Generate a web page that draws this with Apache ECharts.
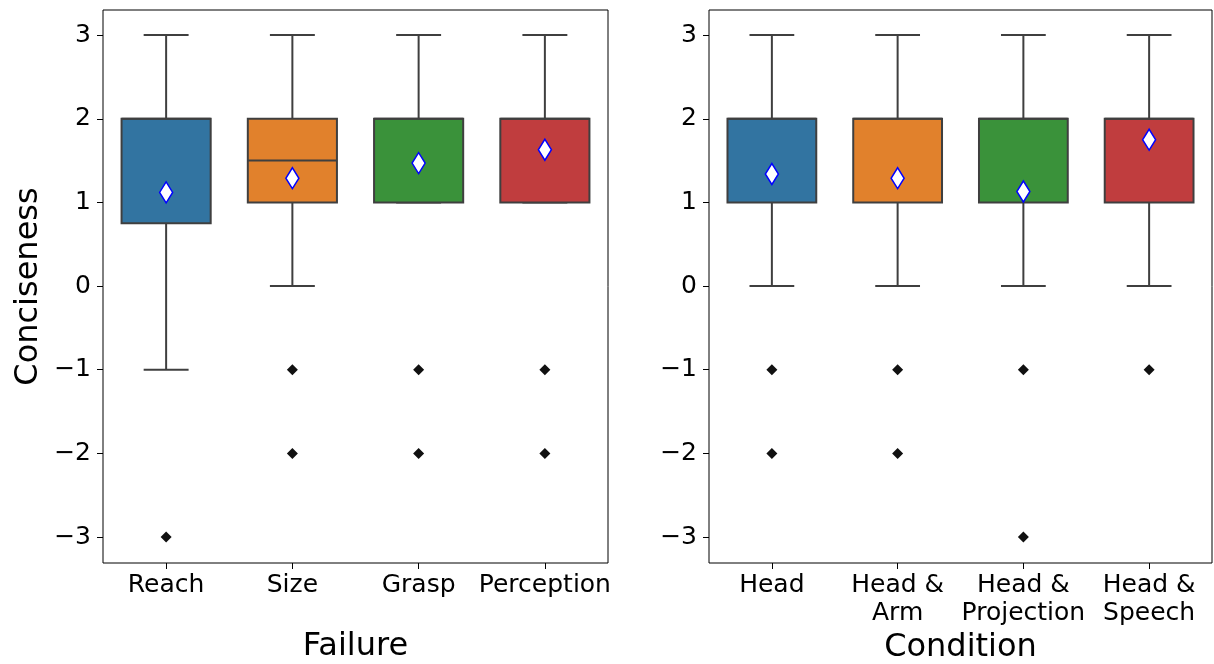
<!DOCTYPE html>
<html>
<head>
<meta charset="utf-8">
<script src="https://cdn.jsdelivr.net/npm/echarts@6/dist/echarts.min.js"></script>
<style>
html,body{margin:0;padding:0;background:#fff;}
#chart{width:1214px;height:664px;}
</style>
</head>
<body>
<div id="chart"></div>
<script>
// ---- data ----
const failureCats = ['Reach', 'Size', 'Grasp', 'Perception'];
const failureLow = [-1, 0, 1, 1];
const failureQ1 = [0.75, 1, 1, 1];
const failureMedian = [2, 1.5, 2, 2];
const failureQ3 = [2, 2, 2, 2];
const failureHigh = [3, 3, 3, 3];
const failureMean = [1.12, 1.29, 1.47, 1.63];
const failureOutliers = [[-3], [-1, -2], [-1, -2], [-1, -2]];

const conditionCats = ['Head', 'Head &\nArm', 'Head &\nProjection', 'Head &\nSpeech'];
const conditionLow = [0, 0, 0, 0];
const conditionQ1 = [1, 1, 1, 1];
const conditionMedian = [2, 2, 2, 2];
const conditionQ3 = [2, 2, 2, 2];
const conditionHigh = [3, 3, 3, 3];
const conditionMean = [1.34, 1.29, 1.13, 1.75];
const conditionOutliers = [[-1, -2], [-1, -2], [-1, -3], [-1]];

const yTicks = [-3, -2, -1, 0, 1, 2, 3];

// ---- style ----
const palette = ['#3274a1', '#e1812c', '#3a923a', '#c03d3e'];
const edge = '#3f3f3f';
const FONT = 'DejaVu Sans';

function boxData(low, q1, med, q3, high) {
  return low.map((v, i) => [i, low[i], q1[i], med[i], q3[i], high[i]]);
}
function outlierData(outs) {
  const r = [];
  outs.forEach((arr, i) => arr.forEach(v => r.push([i, v])));
  return r;
}
function meanData(means) {
  return means.map((v, i) => [i, v]);
}

function renderBox(params, api) {
  const idx = api.value(0);
  const band = api.size([1, 0])[0];
  const hw = band * 0.353, cw = band * 0.178;
  const pMin = api.coord([idx, api.value(1)]);
  const pQ1 = api.coord([idx, api.value(2)]);
  const pMed = api.coord([idx, api.value(3)]);
  const pQ3 = api.coord([idx, api.value(4)]);
  const pMax = api.coord([idx, api.value(5)]);
  const x = pQ1[0];
  const st = { stroke: edge, lineWidth: 2, fill: null };
  return {
    type: 'group',
    children: [
      { type: 'line', shape: { x1: x, y1: pQ3[1], x2: x, y2: pMax[1] }, style: st },
      { type: 'line', shape: { x1: x, y1: pQ1[1], x2: x, y2: pMin[1] }, style: st },
      { type: 'line', shape: { x1: x - cw, y1: pMax[1], x2: x + cw, y2: pMax[1] }, style: st },
      { type: 'line', shape: { x1: x - cw, y1: pMin[1], x2: x + cw, y2: pMin[1] }, style: st },
      { type: 'rect', shape: { x: x - hw, y: pQ3[1], width: 2 * hw, height: pQ1[1] - pQ3[1] },
        style: { fill: palette[idx], stroke: edge, lineWidth: 2 } },
      { type: 'line', shape: { x1: x - hw, y1: pMed[1], x2: x + hw, y2: pMed[1] }, style: st }
    ]
  };
}

const minusFmt = v => String(v).replace('-', '\u2212');

function xAxisFor(gi, cats, name) {
  return {
    type: 'category', gridIndex: gi, data: cats,
    name: name, nameLocation: 'middle', nameGap: 68,
    nameTextStyle: { fontFamily: FONT, fontSize: 32, color: '#000' },
    axisLine: { show: false, onZero: false },
    axisTick: { show: true, alignWithLabel: true, length: 6, lineStyle: { color: '#000', width: 1 } },
    axisLabel: { fontFamily: FONT, fontSize: 25, color: '#000', margin: 8, lineHeight: 28, interval: 0 },
    splitLine: { show: false }
  };
}
function yAxisFor(gi, name) {
  return {
    type: 'value', gridIndex: gi, min: -3.31, max: 3.3,
    name: name, nameLocation: 'middle', nameGap: 58,
    nameTextStyle: { fontFamily: FONT, fontSize: 32, color: '#000' },
    axisLine: { show: false, onZero: false },
    axisTick: { show: true, length: 6, customValues: yTicks, lineStyle: { color: '#000', width: 1 } },
    axisLabel: { fontFamily: FONT, fontSize: 25, color: '#000', margin: 12, customValues: yTicks, formatter: minusFmt },
    splitLine: { show: false }
  };
}

const meanSymbol = 'path://M5,0L10,10L5,20L0,10Z';

function seriesFor(gi, low, q1, med, q3, high, means, outs) {
  return [
    { type: 'custom', xAxisIndex: gi, yAxisIndex: gi, renderItem: renderBox,
      data: boxData(low, q1, med, q3, high), z: 2, silent: true },
    { type: 'scatter', xAxisIndex: gi, yAxisIndex: gi, data: outlierData(outs),
      symbol: 'diamond', symbolSize: 11, itemStyle: { color: '#111', opacity: 1 }, z: 3 },
    { type: 'scatter', xAxisIndex: gi, yAxisIndex: gi, data: meanData(means),
      symbol: meanSymbol, symbolSize: [13, 21],
      itemStyle: { color: '#fff', borderColor: '#0000ff', borderWidth: 1.6, opacity: 1 }, z: 4 }
  ];
}

const chart = echarts.init(document.getElementById('chart'), null, { renderer: 'canvas' });
chart.setOption({
  animation: false,
  backgroundColor: '#fff',
  grid: [
    { left: 103, top: 10, width: 505, height: 553, show: true, borderColor: '#000', borderWidth: 1,
      backgroundColor: 'transparent', containLabel: false, outerBoundsMode: 'none' },
    { left: 709, top: 10, width: 503, height: 553, show: true, borderColor: '#000', borderWidth: 1,
      backgroundColor: 'transparent', containLabel: false, outerBoundsMode: 'none' }
  ],
  xAxis: [xAxisFor(0, failureCats, 'Failure'), xAxisFor(1, conditionCats, 'Condition')],
  yAxis: [yAxisFor(0, 'Conciseness'), yAxisFor(1, '')],
  series: [].concat(
    seriesFor(0, failureLow, failureQ1, failureMedian, failureQ3, failureHigh, failureMean, failureOutliers),
    seriesFor(1, conditionLow, conditionQ1, conditionMedian, conditionQ3, conditionHigh, conditionMean, conditionOutliers)
  )
});
</script>
</body>
</html>
